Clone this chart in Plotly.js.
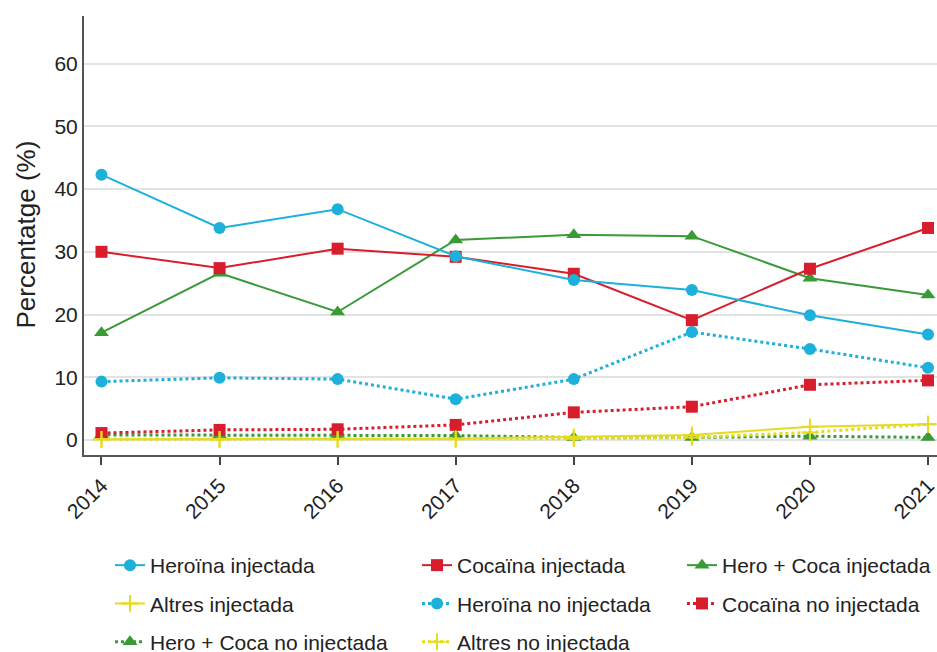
<!DOCTYPE html>
<html>
<head>
<meta charset="utf-8">
<script src="https://cdn.plot.ly/plotly-3.0.1.min.js"></script>
<style>html,body{margin:0;padding:0;background:#fff;}#chart{width:937px;height:652px;}</style>
</head>
<body>
<div id="chart"></div>
<script>
const years = [2014, 2015, 2016, 2017, 2018, 2019, 2020, 2021];
const yearLabels = ["2014", "2015", "2016", "2017", "2018", "2019", "2020", "2021"];

const heroinaInj   = [42.3, 33.8, 36.8, 29.3, 25.5, 23.9, 19.9, 16.8];
const cocainaInj   = [30.0, 27.4, 30.5, 29.2, 26.5, 19.1, 27.3, 33.8];
const heroCocaInj  = [17.1, 26.6, 20.4, 31.9, 32.7, 32.5, 25.8, 23.1];
const altresInj    = [0.1, 0.1, 0.1, 0.2, 0.5, 0.8, 2.1, 2.5];
const heroinaNo    = [9.3, 9.9, 9.7, 6.5, 9.7, 17.2, 14.5, 11.5];
const cocainaNo    = [1.1, 1.6, 1.7, 2.4, 4.4, 5.3, 8.8, 9.5];
const heroCocaNo   = [0.8, 0.8, 0.8, 0.7, 0.4, 0.4, 0.6, 0.4];
const altresNo     = [0.1, 0.1, 0.1, 0.1, 0.2, 0.4, 1.2, 2.5];

const names = ["Heroïna injectada", "Cocaïna injectada", "Hero + Coca injectada", "Altres injectada",
               "Heroïna no injectada", "Cocaïna no injectada", "Hero + Coca no injectada", "Altres no injectada"];
const yTitle = 'Percentatge (%)';

const BLUE = '#1cb0da', RED = '#d81e2c', GREEN = '#3a9a36', YELLOW = '#e5dc1e';

function tr(y, name, color, symbol, dash, legend, rank, size) {
  const isCross = symbol === 'cross-thin';
  return {
    x: years, y: y, name: name, type: 'scatter', mode: 'lines+markers',
    legend: legend, legendgroup: name, legendrank: rank,
    line: {color: color, width: dash === 'solid' ? 2 : 3, dash: dash},
    marker: isCross ? {symbol: symbol, size: size, color: color, line: {color: color, width: 2}}
                    : {symbol: symbol, size: size, color: color}
  };
}

const data = [
  tr(heroCocaNo, names[6], GREEN, 'triangle-up', 'dot', 'legend', 3, 13),
  tr(cocainaNo, names[5], RED, 'square', 'dot', 'legend3', 2, 12),
  tr(heroinaNo, names[4], BLUE, 'circle', 'dot', 'legend2', 2, 12),
  tr(altresNo, names[7], YELLOW, 'cross-thin', 'dot', 'legend2', 3, 12),
  tr(heroCocaInj, names[2], GREEN, 'triangle-up', 'solid', 'legend3', 1, 13),
  tr(cocainaInj, names[1], RED, 'square', 'solid', 'legend2', 1, 12),
  tr(heroinaInj, names[0], BLUE, 'circle', 'solid', 'legend', 1, 12),
  tr(altresInj, names[3], YELLOW, 'cross-thin', 'solid', 'legend', 2, 12)
];

const legendFont = {family: 'Arial, "Liberation Sans", sans-serif', size: 21, color: '#222'};
function leg(xpx) {
  return {
    xref: 'container', yref: 'container', x: xpx / 937, y: 1 - 545 / 652,
    xanchor: 'left', yanchor: 'top', orientation: 'v', traceorder: 'grouped',
    tracegroupgap: 8, font: legendFont, bgcolor: 'rgba(0,0,0,0)'
  };
}

const layout = {
  width: 937, height: 652,
  margin: {l: 83.5, r: 0, t: 16, b: 197, autoexpand: false},
  paper_bgcolor: '#fff', plot_bgcolor: '#fff',
  font: {family: 'Arial, "Liberation Sans", sans-serif', color: '#333'},
  showlegend: true,
  legend: leg(110),
  legend2: leg(417),
  legend3: leg(682),
  xaxis: {
    range: [2013.852, 2021.076], tickvals: years, ticktext: yearLabels,
    tickangle: -45, ticks: 'outside', ticklen: 8, tickwidth: 2, tickcolor: '#444',
    showline: true, linecolor: '#555', linewidth: 2, showgrid: false, zeroline: false,
    ticklabeloverflow: 'allow',
    tickfont: {size: 21, color: '#222'}
  },
  yaxis: {
    range: [-2.4, 67.6], tickvals: [0, 10, 20, 30, 40, 50, 60],
    showline: true, linecolor: '#555', linewidth: 2, ticks: '',
    showgrid: true, gridcolor: '#e3e3e3', gridwidth: 2, zeroline: false,
    tickfont: {size: 21, color: '#222'}
  },
  annotations: [{
    text: yTitle, textangle: -90, showarrow: false,
    xref: 'paper', yref: 'paper', x: (25 - 83.5) / 853.5, y: (455 - 235) / 439,
    xanchor: 'center', yanchor: 'middle',
    font: {size: 26, color: '#222', family: 'Arial, "Liberation Sans", sans-serif'}
  }]
};

Plotly.newPlot('chart', data, layout, {displayModeBar: false, responsive: false});
</script>
</body>
</html>
